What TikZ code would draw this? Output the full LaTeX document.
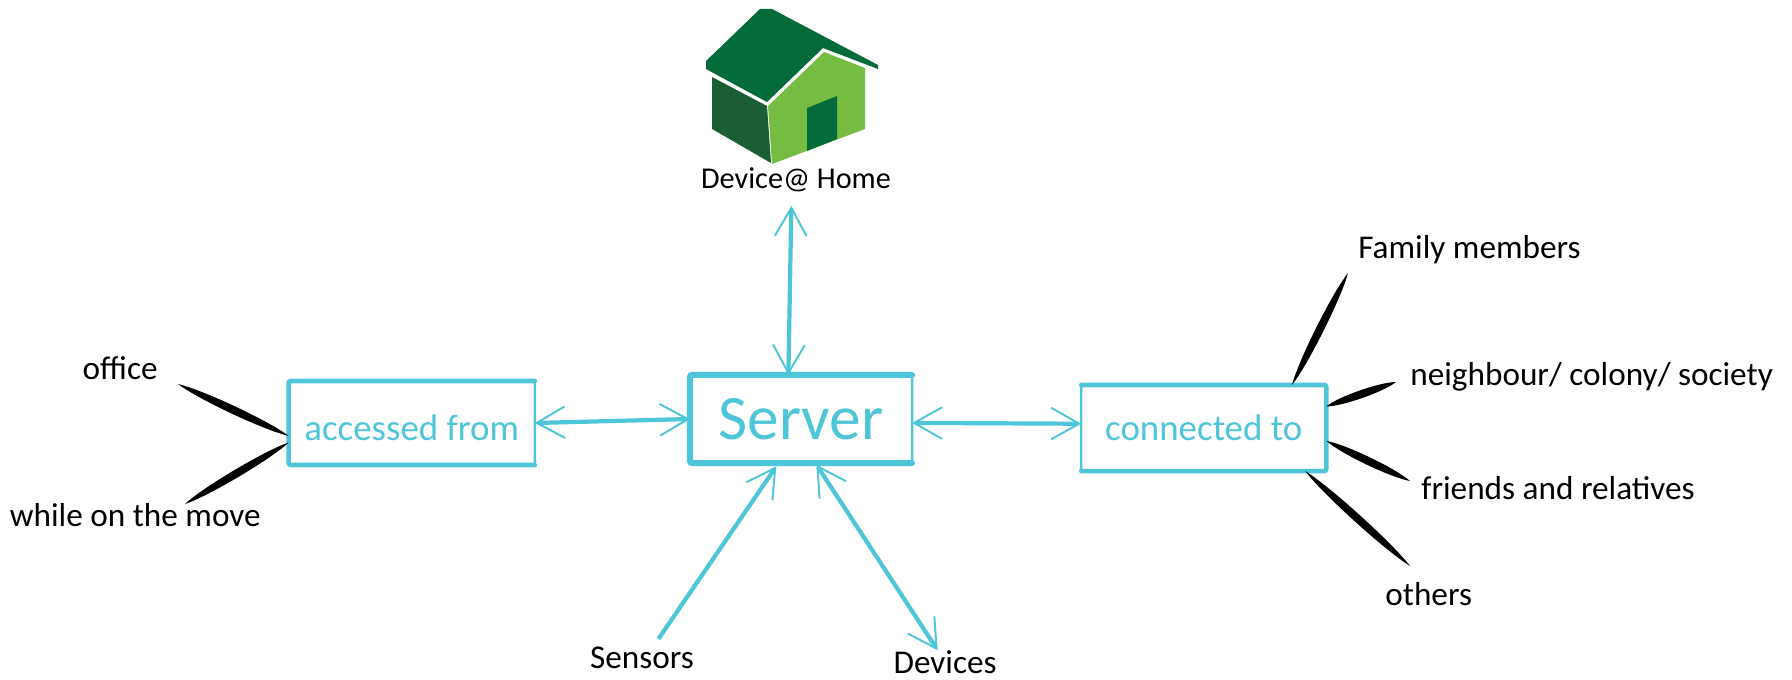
\documentclass[tikz,border=0pt]{standalone}
\usepackage{fontspec}
\setmainfont{Carlito}
\usetikzlibrary{positioning,calc,arrows.meta}

\definecolor{srvblue}{HTML}{4EC5D8}
\definecolor{roofgreen}{HTML}{036A3A}
\definecolor{sidegreen}{HTML}{1B5E33}
\definecolor{frontgreen}{HTML}{76BC43}

\tikzset{
  item/.style={inner sep=0pt,outer sep=0pt,font=\fontsize{9.45}{11}\selectfont},
  box/.style={draw=srvblue,line width=.7pt,inner sep=0pt,outer sep=0pt,text=srvblue,
    rounded corners=.6pt,font=\fontsize{10.5}{12}\selectfont},
  pen/.style={draw=srvblue,line width=1.7pt,rounded corners=.6pt,line cap=round},
  link/.style={draw=srvblue,line width=1.2pt,>={Straight Barb[length=8pt,width=9pt,line width=.55pt]}},
  brush/.style={fill=black,draw=none,to path={
    (\tikztostart)
    .. controls ($(\tikztostart)!.2!(\tikztotarget)!1.5pt!90:(\tikztotarget)$)
    and ($(\tikztostart)!.8!(\tikztotarget)!1.5pt!90:(\tikztotarget)$) .. (\tikztotarget)
    .. controls ($(\tikztotarget)!.2!(\tikztostart)!1.5pt!90:(\tikztostart)$)
    and ($(\tikztotarget)!.8!(\tikztostart)!1.5pt!90:(\tikztostart)$) .. (\tikztostart)
  }},
}

\begin{document}
\begin{tikzpicture}[x=.01cm,y=-.01cm]
  \useasboundingbox (0,0) rectangle (1792,679);

  % House
  \fill[roofgreen] (760,9) -- (772,9) -- (878,65) -- (878,69) -- (823,48) -- (767,102) -- (706,69) -- (706,61) -- cycle;
  \fill[sidegreen] (712,77) -- (767,106) -- (771,163) -- (712,129) -- cycle;
  \fill[frontgreen] (824,52) -- (865,68) -- (865,129) -- (772,164) -- (768,106) -- cycle;
  \fill[roofgreen] (807,108) -- (837,96) -- (837,139) -- (807,151) -- cycle;

  % Nodes
  \node[box,minimum width=2.22cm,minimum height=.88cm,font=\fontsize{18}{20}\selectfont] (server) at (801,419) {Server}; %
  \node[box,minimum width=2.46cm,minimum height=.84cm,text height=10pt,left=1.55cm of server,yshift=-.04cm] (accessed) {accessed from}; %
  \node[box,minimum width=2.45cm,minimum height=.86cm,right=1.69cm of server,yshift=-.09cm] (connected) {connected to}; %

  % More nodes
  \node[item,font=\fontsize{8.6}{10}\selectfont,above=1.83cm of server,xshift=-.05cm] (device) {Device@ Home}; %
  \node[item,below=1.84cm of server,xshift=-1.59cm] (sensors) {Sensors}; %
  \node[item,below=1.87cm of server,xshift=1.44cm] (devices) {Devices}; %
  \node[item,left=1.31cm of accessed,yshift=.55cm] (office) {office}; %
  \node[item,left=.28cm of accessed,yshift=-.92cm] (move) {while on the move}; %
  \node[item,right=.32cm of connected,yshift=1.78cm] (family) {Family members}; %
  \node[item,right=.84cm of connected,yshift=.51cm] (colony) {neighbour/ colony/ society}; %
  \node[item,right=.95cm of connected,yshift=-.6cm] (friends) {friends and relatives}; %
  \node[item,right=.59cm of connected,yshift=-1.66cm] (others) {others}; %

  % Free ends of the strokes
  \coordinate (office-c) at (178,384); %
  \coordinate (move-c) at (185,504); %
  \coordinate (family-c) at (1348,273); %
  \coordinate (colony-c) at (1396,382); %
  \coordinate (friends-c) at (1410,481); %
  \coordinate (others-c) at (1410,566); %

  % Heavy sides of the boxes
  \draw[pen] (server.south east) -- (server.south west) -- (server.north west) -- (server.north east); %
  \draw[pen,line width=1.3pt] (accessed.south east) -- (accessed.south west) -- (accessed.north west) -- (accessed.north east); %
  \draw[pen,line width=1.3pt] (connected.north west) -- (connected.north east) -- (connected.south east) -- (connected.south west); %

  % Arrows
  \draw[link,<->,shorten <=.14cm] (device.250) -- (server.106); %
  \draw[link,<->] (accessed.east) -- (server.west); %
  \draw[link,<->] (server.-2) -- (connected.178); %
  \draw[link,->,shorten <=.1cm,shorten >=.04cm] (sensors.45) -- (server.243); %
  \draw[link,<->,shorten <=.02cm] (server.-72) -- (devices.123); %

  % Strokes
  \draw[brush] (office-c) to (accessed.186); %
  \draw[brush] (move-c) to (accessed.189); %
  \draw[brush] (family-c) to (connected.26); %
  \draw[brush] (colony-c) to (connected.10); %
  \draw[brush] (friends-c) to (connected.-6); %
  \draw[brush] (others-c) to (connected.-23); %

\end{tikzpicture}
\end{document}
